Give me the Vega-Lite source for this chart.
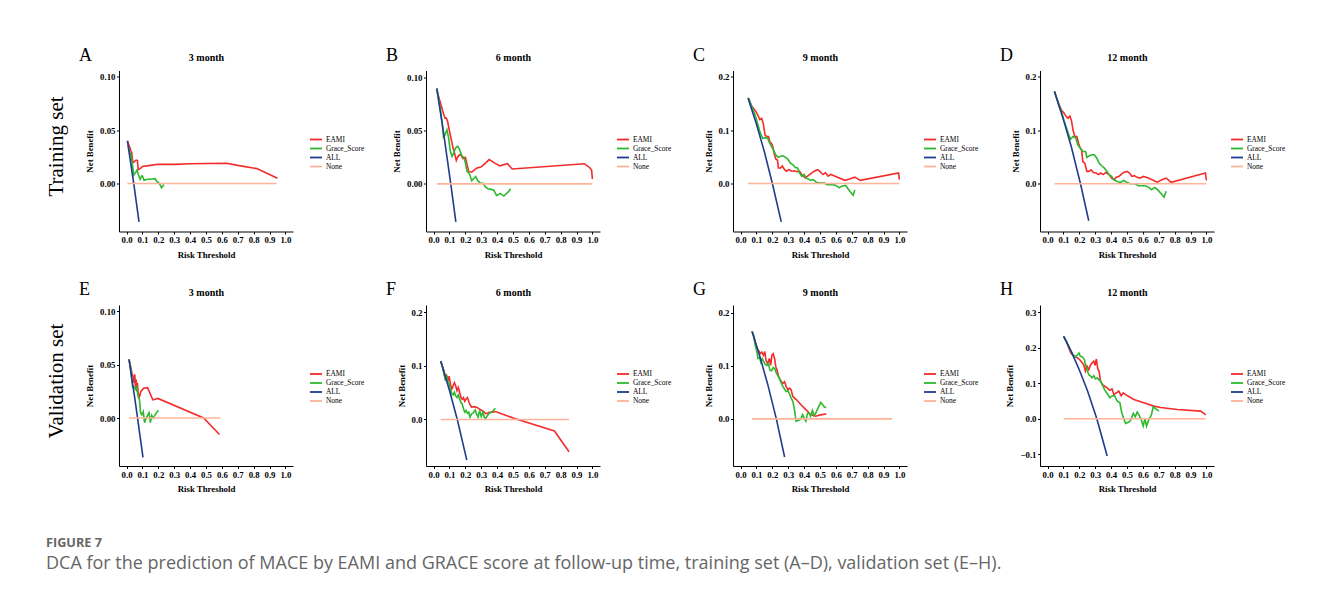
{
"$schema": "https://vega.github.io/schema/vega-lite/v6.json",
"autosize": {"type": "pad"},
"padding": {"left": 45, "top": 46.5, "right": 10, "bottom": 10},
"background": "white",
"datasets": {"dca": [
{"p":"A","m":"EAMI","t":0.005,"nb":0.04},{"p":"A","m":"EAMI","t":0.012,"nb":0.037},{"p":"A","m":"EAMI","t":0.02,"nb":0.034},{"p":"A","m":"EAMI","t":0.026,"nb":0.031},{"p":"A","m":"EAMI","t":0.032,"nb":0.029},{"p":"A","m":"EAMI","t":0.038,"nb":0.021},{"p":"A","m":"EAMI","t":0.045,"nb":0.02},{"p":"A","m":"EAMI","t":0.052,"nb":0.021},{"p":"A","m":"EAMI","t":0.06,"nb":0.022},{"p":"A","m":"EAMI","t":0.068,"nb":0.0215},{"p":"A","m":"EAMI","t":0.073,"nb":0.013},{"p":"A","m":"EAMI","t":0.085,"nb":0.014},{"p":"A","m":"EAMI","t":0.1,"nb":0.016},{"p":"A","m":"EAMI","t":0.15,"nb":0.017},{"p":"A","m":"EAMI","t":0.2,"nb":0.018},{"p":"A","m":"EAMI","t":0.3,"nb":0.018},{"p":"A","m":"EAMI","t":0.4,"nb":0.0185},{"p":"A","m":"EAMI","t":0.5,"nb":0.0188},{"p":"A","m":"EAMI","t":0.63,"nb":0.019},{"p":"A","m":"EAMI","t":0.7,"nb":0.017},{"p":"A","m":"EAMI","t":0.82,"nb":0.014},{"p":"A","m":"EAMI","t":0.95,"nb":0.005},
{"p":"A","m":"Grace_Score","t":0.01,"nb":0.035},{"p":"A","m":"Grace_Score","t":0.02,"nb":0.029},{"p":"A","m":"Grace_Score","t":0.028,"nb":0.026},{"p":"A","m":"Grace_Score","t":0.035,"nb":0.02},{"p":"A","m":"Grace_Score","t":0.045,"nb":0.008},{"p":"A","m":"Grace_Score","t":0.055,"nb":0.01},{"p":"A","m":"Grace_Score","t":0.065,"nb":0.0125},{"p":"A","m":"Grace_Score","t":0.075,"nb":0.008},{"p":"A","m":"Grace_Score","t":0.085,"nb":0.004},{"p":"A","m":"Grace_Score","t":0.095,"nb":0.007},{"p":"A","m":"Grace_Score","t":0.1,"nb":0.007},{"p":"A","m":"Grace_Score","t":0.11,"nb":0.003},{"p":"A","m":"Grace_Score","t":0.13,"nb":0.004},{"p":"A","m":"Grace_Score","t":0.15,"nb":0.004},{"p":"A","m":"Grace_Score","t":0.18,"nb":0.0045},{"p":"A","m":"Grace_Score","t":0.19,"nb":0.002},{"p":"A","m":"Grace_Score","t":0.2,"nb":0.001},{"p":"A","m":"Grace_Score","t":0.21,"nb":-0.001},{"p":"A","m":"Grace_Score","t":0.22,"nb":-0.004},{"p":"A","m":"Grace_Score","t":0.235,"nb":-0.001},
{"p":"A","m":"ALL","t":0.005,"nb":0.04},{"p":"A","m":"ALL","t":0.045,"nb":0.0},{"p":"A","m":"ALL","t":0.078,"nb":-0.036},
{"p":"A","m":"None","t":0.005,"nb":0},{"p":"A","m":"None","t":0.944,"nb":0},
{"p":"B","m":"EAMI","t":0.02,"nb":0.09},{"p":"B","m":"EAMI","t":0.025,"nb":0.086},{"p":"B","m":"EAMI","t":0.038,"nb":0.079},{"p":"B","m":"EAMI","t":0.048,"nb":0.074},{"p":"B","m":"EAMI","t":0.057,"nb":0.069},{"p":"B","m":"EAMI","t":0.063,"nb":0.066},{"p":"B","m":"EAMI","t":0.072,"nb":0.062},{"p":"B","m":"EAMI","t":0.08,"nb":0.062},{"p":"B","m":"EAMI","t":0.088,"nb":0.059},{"p":"B","m":"EAMI","t":0.097,"nb":0.052},{"p":"B","m":"EAMI","t":0.105,"nb":0.046},{"p":"B","m":"EAMI","t":0.114,"nb":0.04},{"p":"B","m":"EAMI","t":0.122,"nb":0.034},{"p":"B","m":"EAMI","t":0.13,"nb":0.03},{"p":"B","m":"EAMI","t":0.143,"nb":0.022},{"p":"B","m":"EAMI","t":0.154,"nb":0.026},{"p":"B","m":"EAMI","t":0.168,"nb":0.028},{"p":"B","m":"EAMI","t":0.185,"nb":0.024},{"p":"B","m":"EAMI","t":0.2,"nb":0.025},{"p":"B","m":"EAMI","t":0.221,"nb":0.0117},{"p":"B","m":"EAMI","t":0.24,"nb":0.011},{"p":"B","m":"EAMI","t":0.27,"nb":0.0148},{"p":"B","m":"EAMI","t":0.3,"nb":0.016},{"p":"B","m":"EAMI","t":0.33,"nb":0.02},{"p":"B","m":"EAMI","t":0.35,"nb":0.023},{"p":"B","m":"EAMI","t":0.38,"nb":0.02},{"p":"B","m":"EAMI","t":0.417,"nb":0.017},{"p":"B","m":"EAMI","t":0.465,"nb":0.019},{"p":"B","m":"EAMI","t":0.495,"nb":0.014},{"p":"B","m":"EAMI","t":0.95,"nb":0.019},{"p":"B","m":"EAMI","t":0.985,"nb":0.015},{"p":"B","m":"EAMI","t":0.995,"nb":0.013},{"p":"B","m":"EAMI","t":1.0,"nb":0.0046},
{"p":"B","m":"Grace_Score","t":0.02,"nb":0.09},{"p":"B","m":"Grace_Score","t":0.025,"nb":0.086},{"p":"B","m":"Grace_Score","t":0.042,"nb":0.071},{"p":"B","m":"Grace_Score","t":0.055,"nb":0.056},{"p":"B","m":"Grace_Score","t":0.063,"nb":0.043},{"p":"B","m":"Grace_Score","t":0.076,"nb":0.048},{"p":"B","m":"Grace_Score","t":0.084,"nb":0.051},{"p":"B","m":"Grace_Score","t":0.095,"nb":0.043},{"p":"B","m":"Grace_Score","t":0.105,"nb":0.031},{"p":"B","m":"Grace_Score","t":0.116,"nb":0.026},{"p":"B","m":"Grace_Score","t":0.126,"nb":0.029},{"p":"B","m":"Grace_Score","t":0.139,"nb":0.034},{"p":"B","m":"Grace_Score","t":0.152,"nb":0.0355},{"p":"B","m":"Grace_Score","t":0.164,"nb":0.032},{"p":"B","m":"Grace_Score","t":0.179,"nb":0.026},{"p":"B","m":"Grace_Score","t":0.19,"nb":0.025},{"p":"B","m":"Grace_Score","t":0.2,"nb":0.02},{"p":"B","m":"Grace_Score","t":0.21,"nb":0.012},{"p":"B","m":"Grace_Score","t":0.227,"nb":0.009},{"p":"B","m":"Grace_Score","t":0.24,"nb":0.003},{"p":"B","m":"Grace_Score","t":0.253,"nb":0.005},{"p":"B","m":"Grace_Score","t":0.265,"nb":0.0068},{"p":"B","m":"Grace_Score","t":0.278,"nb":0.003},{"p":"B","m":"Grace_Score","t":0.295,"nb":0.0006},{"p":"B","m":"Grace_Score","t":0.312,"nb":0.0006},{"p":"B","m":"Grace_Score","t":0.326,"nb":-0.003},{"p":"B","m":"Grace_Score","t":0.341,"nb":-0.0046},{"p":"B","m":"Grace_Score","t":0.358,"nb":-0.005},{"p":"B","m":"Grace_Score","t":0.379,"nb":-0.006},{"p":"B","m":"Grace_Score","t":0.396,"nb":-0.011},{"p":"B","m":"Grace_Score","t":0.41,"nb":-0.01},{"p":"B","m":"Grace_Score","t":0.42,"nb":-0.009},{"p":"B","m":"Grace_Score","t":0.442,"nb":-0.0115},{"p":"B","m":"Grace_Score","t":0.46,"nb":-0.009},{"p":"B","m":"Grace_Score","t":0.474,"nb":-0.007},{"p":"B","m":"Grace_Score","t":0.484,"nb":-0.0046},
{"p":"B","m":"ALL","t":0.02,"nb":0.09},{"p":"B","m":"ALL","t":0.06,"nb":0.051},{"p":"B","m":"ALL","t":0.108,"nb":0.0},{"p":"B","m":"ALL","t":0.14,"nb":-0.036},
{"p":"B","m":"None","t":0.02,"nb":0},{"p":"B","m":"None","t":1.0,"nb":0},
{"p":"C","m":"EAMI","t":0.047,"nb":0.16},{"p":"C","m":"EAMI","t":0.051,"nb":0.159},{"p":"C","m":"EAMI","t":0.068,"nb":0.146},{"p":"C","m":"EAMI","t":0.084,"nb":0.14},{"p":"C","m":"EAMI","t":0.098,"nb":0.134},{"p":"C","m":"EAMI","t":0.109,"nb":0.128},{"p":"C","m":"EAMI","t":0.121,"nb":0.12},{"p":"C","m":"EAMI","t":0.133,"nb":0.122},{"p":"C","m":"EAMI","t":0.143,"nb":0.112},{"p":"C","m":"EAMI","t":0.154,"nb":0.091},{"p":"C","m":"EAMI","t":0.166,"nb":0.088},{"p":"C","m":"EAMI","t":0.176,"nb":0.088},{"p":"C","m":"EAMI","t":0.184,"nb":0.078},{"p":"C","m":"EAMI","t":0.195,"nb":0.075},{"p":"C","m":"EAMI","t":0.203,"nb":0.069},{"p":"C","m":"EAMI","t":0.211,"nb":0.057},{"p":"C","m":"EAMI","t":0.221,"nb":0.046},{"p":"C","m":"EAMI","t":0.232,"nb":0.044},{"p":"C","m":"EAMI","t":0.238,"nb":0.029},{"p":"C","m":"EAMI","t":0.252,"nb":0.029},{"p":"C","m":"EAMI","t":0.262,"nb":0.033},{"p":"C","m":"EAMI","t":0.277,"nb":0.026},{"p":"C","m":"EAMI","t":0.289,"nb":0.023},{"p":"C","m":"EAMI","t":0.303,"nb":0.026},{"p":"C","m":"EAMI","t":0.324,"nb":0.023},{"p":"C","m":"EAMI","t":0.338,"nb":0.024},{"p":"C","m":"EAMI","t":0.355,"nb":0.022},{"p":"C","m":"EAMI","t":0.371,"nb":0.023},{"p":"C","m":"EAMI","t":0.385,"nb":0.017},{"p":"C","m":"EAMI","t":0.395,"nb":0.0136},{"p":"C","m":"EAMI","t":0.408,"nb":0.0105},{"p":"C","m":"EAMI","t":0.42,"nb":0.0136},{"p":"C","m":"EAMI","t":0.436,"nb":0.017},{"p":"C","m":"EAMI","t":0.453,"nb":0.021},{"p":"C","m":"EAMI","t":0.469,"nb":0.024},{"p":"C","m":"EAMI","t":0.486,"nb":0.026},{"p":"C","m":"EAMI","t":0.502,"nb":0.022},{"p":"C","m":"EAMI","t":0.518,"nb":0.017},{"p":"C","m":"EAMI","t":0.535,"nb":0.02},{"p":"C","m":"EAMI","t":0.551,"nb":0.0136},{"p":"C","m":"EAMI","t":0.568,"nb":0.017},{"p":"C","m":"EAMI","t":0.584,"nb":0.015},{"p":"C","m":"EAMI","t":0.621,"nb":0.0105},{"p":"C","m":"EAMI","t":0.658,"nb":0.006},{"p":"C","m":"EAMI","t":0.686,"nb":0.0086},{"p":"C","m":"EAMI","t":0.719,"nb":0.012},{"p":"C","m":"EAMI","t":0.754,"nb":0.006},{"p":"C","m":"EAMI","t":0.995,"nb":0.02},{"p":"C","m":"EAMI","t":1.0,"nb":0.0074},
{"p":"C","m":"Grace_Score","t":0.047,"nb":0.16},{"p":"C","m":"Grace_Score","t":0.051,"nb":0.159},{"p":"C","m":"Grace_Score","t":0.068,"nb":0.146},{"p":"C","m":"Grace_Score","t":0.084,"nb":0.134},{"p":"C","m":"Grace_Score","t":0.098,"nb":0.122},{"p":"C","m":"Grace_Score","t":0.113,"nb":0.106},{"p":"C","m":"Grace_Score","t":0.125,"nb":0.094},{"p":"C","m":"Grace_Score","t":0.139,"nb":0.085},{"p":"C","m":"Grace_Score","t":0.154,"nb":0.086},{"p":"C","m":"Grace_Score","t":0.17,"nb":0.085},{"p":"C","m":"Grace_Score","t":0.18,"nb":0.078},{"p":"C","m":"Grace_Score","t":0.195,"nb":0.069},{"p":"C","m":"Grace_Score","t":0.207,"nb":0.063},{"p":"C","m":"Grace_Score","t":0.221,"nb":0.054},{"p":"C","m":"Grace_Score","t":0.236,"nb":0.049},{"p":"C","m":"Grace_Score","t":0.252,"nb":0.051},{"p":"C","m":"Grace_Score","t":0.268,"nb":0.052},{"p":"C","m":"Grace_Score","t":0.283,"nb":0.049},{"p":"C","m":"Grace_Score","t":0.297,"nb":0.046},{"p":"C","m":"Grace_Score","t":0.314,"nb":0.038},{"p":"C","m":"Grace_Score","t":0.33,"nb":0.035},{"p":"C","m":"Grace_Score","t":0.344,"nb":0.03},{"p":"C","m":"Grace_Score","t":0.359,"nb":0.029},{"p":"C","m":"Grace_Score","t":0.371,"nb":0.02},{"p":"C","m":"Grace_Score","t":0.385,"nb":0.0136},{"p":"C","m":"Grace_Score","t":0.4,"nb":0.017},{"p":"C","m":"Grace_Score","t":0.412,"nb":0.0105},{"p":"C","m":"Grace_Score","t":0.426,"nb":0.0086},{"p":"C","m":"Grace_Score","t":0.44,"nb":0.006},{"p":"C","m":"Grace_Score","t":0.457,"nb":0.0074},{"p":"C","m":"Grace_Score","t":0.477,"nb":0.0025},{"p":"C","m":"Grace_Score","t":0.498,"nb":0.001},{"p":"C","m":"Grace_Score","t":0.529,"nb":0.001},{"p":"C","m":"Grace_Score","t":0.543,"nb":-0.002},{"p":"C","m":"Grace_Score","t":0.58,"nb":-0.002},{"p":"C","m":"Grace_Score","t":0.6,"nb":-0.0037},{"p":"C","m":"Grace_Score","t":0.621,"nb":-0.008},{"p":"C","m":"Grace_Score","t":0.637,"nb":-0.005},{"p":"C","m":"Grace_Score","t":0.662,"nb":-0.0037},{"p":"C","m":"Grace_Score","t":0.682,"nb":-0.012},{"p":"C","m":"Grace_Score","t":0.703,"nb":-0.02},{"p":"C","m":"Grace_Score","t":0.709,"nb":-0.022},{"p":"C","m":"Grace_Score","t":0.719,"nb":-0.012},
{"p":"C","m":"ALL","t":0.047,"nb":0.16},{"p":"C","m":"ALL","t":0.1,"nb":0.111},{"p":"C","m":"ALL","t":0.15,"nb":0.059},{"p":"C","m":"ALL","t":0.2,"nb":0.0},{"p":"C","m":"ALL","t":0.256,"nb":-0.072},
{"p":"C","m":"None","t":0.047,"nb":0},{"p":"C","m":"None","t":1.0,"nb":0},
{"p":"D","m":"EAMI","t":0.043,"nb":0.172},{"p":"D","m":"EAMI","t":0.058,"nb":0.159},{"p":"D","m":"EAMI","t":0.074,"nb":0.146},{"p":"D","m":"EAMI","t":0.088,"nb":0.137},{"p":"D","m":"EAMI","t":0.103,"nb":0.132},{"p":"D","m":"EAMI","t":0.115,"nb":0.126},{"p":"D","m":"EAMI","t":0.128,"nb":0.122},{"p":"D","m":"EAMI","t":0.14,"nb":0.126},{"p":"D","m":"EAMI","t":0.15,"nb":0.118},{"p":"D","m":"EAMI","t":0.16,"nb":0.1},{"p":"D","m":"EAMI","t":0.171,"nb":0.088},{"p":"D","m":"EAMI","t":0.185,"nb":0.088},{"p":"D","m":"EAMI","t":0.195,"nb":0.075},{"p":"D","m":"EAMI","t":0.206,"nb":0.066},{"p":"D","m":"EAMI","t":0.214,"nb":0.063},{"p":"D","m":"EAMI","t":0.222,"nb":0.041},{"p":"D","m":"EAMI","t":0.235,"nb":0.038},{"p":"D","m":"EAMI","t":0.247,"nb":0.023},{"p":"D","m":"EAMI","t":0.259,"nb":0.023},{"p":"D","m":"EAMI","t":0.274,"nb":0.026},{"p":"D","m":"EAMI","t":0.288,"nb":0.021},{"p":"D","m":"EAMI","t":0.305,"nb":0.02},{"p":"D","m":"EAMI","t":0.321,"nb":0.017},{"p":"D","m":"EAMI","t":0.335,"nb":0.02},{"p":"D","m":"EAMI","t":0.35,"nb":0.017},{"p":"D","m":"EAMI","t":0.366,"nb":0.021},{"p":"D","m":"EAMI","t":0.387,"nb":0.017},{"p":"D","m":"EAMI","t":0.403,"nb":0.0105},{"p":"D","m":"EAMI","t":0.418,"nb":0.0074},{"p":"D","m":"EAMI","t":0.432,"nb":0.012},{"p":"D","m":"EAMI","t":0.449,"nb":0.0136},{"p":"D","m":"EAMI","t":0.465,"nb":0.018},{"p":"D","m":"EAMI","t":0.479,"nb":0.021},{"p":"D","m":"EAMI","t":0.5,"nb":0.023},{"p":"D","m":"EAMI","t":0.516,"nb":0.02},{"p":"D","m":"EAMI","t":0.531,"nb":0.0136},{"p":"D","m":"EAMI","t":0.547,"nb":0.015},{"p":"D","m":"EAMI","t":0.562,"nb":0.012},{"p":"D","m":"EAMI","t":0.582,"nb":0.0105},{"p":"D","m":"EAMI","t":0.603,"nb":0.0136},{"p":"D","m":"EAMI","t":0.634,"nb":0.0105},{"p":"D","m":"EAMI","t":0.658,"nb":0.0074},{"p":"D","m":"EAMI","t":0.691,"nb":0.003},{"p":"D","m":"EAMI","t":0.72,"nb":0.0074},{"p":"D","m":"EAMI","t":0.747,"nb":0.0105},{"p":"D","m":"EAMI","t":0.778,"nb":0.0025},{"p":"D","m":"EAMI","t":0.994,"nb":0.02},{"p":"D","m":"EAMI","t":1.0,"nb":0.006},
{"p":"D","m":"Grace_Score","t":0.043,"nb":0.172},{"p":"D","m":"Grace_Score","t":0.058,"nb":0.159},{"p":"D","m":"Grace_Score","t":0.074,"nb":0.143},{"p":"D","m":"Grace_Score","t":0.088,"nb":0.134},{"p":"D","m":"Grace_Score","t":0.103,"nb":0.118},{"p":"D","m":"Grace_Score","t":0.115,"nb":0.107},{"p":"D","m":"Grace_Score","t":0.13,"nb":0.094},{"p":"D","m":"Grace_Score","t":0.144,"nb":0.083},{"p":"D","m":"Grace_Score","t":0.16,"nb":0.088},{"p":"D","m":"Grace_Score","t":0.177,"nb":0.085},{"p":"D","m":"Grace_Score","t":0.191,"nb":0.072},{"p":"D","m":"Grace_Score","t":0.206,"nb":0.066},{"p":"D","m":"Grace_Score","t":0.222,"nb":0.06},{"p":"D","m":"Grace_Score","t":0.239,"nb":0.06},{"p":"D","m":"Grace_Score","t":0.247,"nb":0.049},{"p":"D","m":"Grace_Score","t":0.263,"nb":0.052},{"p":"D","m":"Grace_Score","t":0.28,"nb":0.054},{"p":"D","m":"Grace_Score","t":0.294,"nb":0.054},{"p":"D","m":"Grace_Score","t":0.309,"nb":0.048},{"p":"D","m":"Grace_Score","t":0.325,"nb":0.038},{"p":"D","m":"Grace_Score","t":0.342,"nb":0.033},{"p":"D","m":"Grace_Score","t":0.358,"nb":0.029},{"p":"D","m":"Grace_Score","t":0.374,"nb":0.023},{"p":"D","m":"Grace_Score","t":0.387,"nb":0.017},{"p":"D","m":"Grace_Score","t":0.403,"nb":0.0136},{"p":"D","m":"Grace_Score","t":0.418,"nb":0.0074},{"p":"D","m":"Grace_Score","t":0.438,"nb":0.0043},{"p":"D","m":"Grace_Score","t":0.459,"nb":0.0025},{"p":"D","m":"Grace_Score","t":0.479,"nb":0.006},{"p":"D","m":"Grace_Score","t":0.5,"nb":0.0025},{"p":"D","m":"Grace_Score","t":0.521,"nb":0.0},{"p":"D","m":"Grace_Score","t":0.551,"nb":0.0},{"p":"D","m":"Grace_Score","t":0.572,"nb":-0.0037},{"p":"D","m":"Grace_Score","t":0.613,"nb":-0.0037},{"p":"D","m":"Grace_Score","t":0.638,"nb":-0.0068},{"p":"D","m":"Grace_Score","t":0.654,"nb":-0.011},{"p":"D","m":"Grace_Score","t":0.675,"nb":-0.0068},{"p":"D","m":"Grace_Score","t":0.695,"nb":-0.012},{"p":"D","m":"Grace_Score","t":0.716,"nb":-0.0185},{"p":"D","m":"Grace_Score","t":0.733,"nb":-0.025},{"p":"D","m":"Grace_Score","t":0.747,"nb":-0.014},
{"p":"D","m":"ALL","t":0.043,"nb":0.172},{"p":"D","m":"ALL","t":0.1,"nb":0.119},{"p":"D","m":"ALL","t":0.15,"nb":0.068},{"p":"D","m":"ALL","t":0.207,"nb":0.0},{"p":"D","m":"ALL","t":0.259,"nb":-0.069},
{"p":"D","m":"None","t":0.043,"nb":0},{"p":"D","m":"None","t":1.0,"nb":0},
{"p":"E","m":"EAMI","t":0.015,"nb":0.055},{"p":"E","m":"EAMI","t":0.026,"nb":0.048},{"p":"E","m":"EAMI","t":0.036,"nb":0.04},{"p":"E","m":"EAMI","t":0.043,"nb":0.039},{"p":"E","m":"EAMI","t":0.047,"nb":0.033},{"p":"E","m":"EAMI","t":0.051,"nb":0.041},{"p":"E","m":"EAMI","t":0.056,"nb":0.029},{"p":"E","m":"EAMI","t":0.06,"nb":0.036},{"p":"E","m":"EAMI","t":0.064,"nb":0.025},{"p":"E","m":"EAMI","t":0.068,"nb":0.033},{"p":"E","m":"EAMI","t":0.073,"nb":0.023},{"p":"E","m":"EAMI","t":0.081,"nb":0.02},{"p":"E","m":"EAMI","t":0.09,"nb":0.025},{"p":"E","m":"EAMI","t":0.107,"nb":0.028},{"p":"E","m":"EAMI","t":0.132,"nb":0.0285},{"p":"E","m":"EAMI","t":0.165,"nb":0.017},{"p":"E","m":"EAMI","t":0.197,"nb":0.0184},{"p":"E","m":"EAMI","t":0.485,"nb":0.0},{"p":"E","m":"EAMI","t":0.585,"nb":-0.0155},
{"p":"E","m":"Grace_Score","t":0.015,"nb":0.055},{"p":"E","m":"Grace_Score","t":0.021,"nb":0.05},{"p":"E","m":"Grace_Score","t":0.03,"nb":0.039},{"p":"E","m":"Grace_Score","t":0.038,"nb":0.029},{"p":"E","m":"Grace_Score","t":0.047,"nb":0.029},{"p":"E","m":"Grace_Score","t":0.056,"nb":0.027},{"p":"E","m":"Grace_Score","t":0.064,"nb":0.029},{"p":"E","m":"Grace_Score","t":0.073,"nb":0.02},{"p":"E","m":"Grace_Score","t":0.081,"nb":0.017},{"p":"E","m":"Grace_Score","t":0.088,"nb":0.005},{"p":"E","m":"Grace_Score","t":0.096,"nb":0.003},{"p":"E","m":"Grace_Score","t":0.105,"nb":0.006},{"p":"E","m":"Grace_Score","t":0.113,"nb":-0.0044},{"p":"E","m":"Grace_Score","t":0.124,"nb":0.0},{"p":"E","m":"Grace_Score","t":0.132,"nb":0.0025},{"p":"E","m":"Grace_Score","t":0.141,"nb":0.005},{"p":"E","m":"Grace_Score","t":0.15,"nb":-0.0044},{"p":"E","m":"Grace_Score","t":0.158,"nb":0.0025},{"p":"E","m":"Grace_Score","t":0.167,"nb":0.0},{"p":"E","m":"Grace_Score","t":0.179,"nb":0.003},{"p":"E","m":"Grace_Score","t":0.192,"nb":0.0057},{"p":"E","m":"Grace_Score","t":0.201,"nb":0.0073},
{"p":"E","m":"ALL","t":0.015,"nb":0.055},{"p":"E","m":"ALL","t":0.05,"nb":0.02},{"p":"E","m":"ALL","t":0.069,"nb":0.0},{"p":"E","m":"ALL","t":0.103,"nb":-0.037},
{"p":"E","m":"None","t":0.015,"nb":0},{"p":"E","m":"None","t":0.592,"nb":0},
{"p":"F","m":"EAMI","t":0.045,"nb":0.109},{"p":"F","m":"EAMI","t":0.055,"nb":0.1},{"p":"F","m":"EAMI","t":0.065,"nb":0.091},{"p":"F","m":"EAMI","t":0.072,"nb":0.078},{"p":"F","m":"EAMI","t":0.08,"nb":0.083},{"p":"F","m":"EAMI","t":0.086,"nb":0.08},{"p":"F","m":"EAMI","t":0.092,"nb":0.072},{"p":"F","m":"EAMI","t":0.098,"nb":0.081},{"p":"F","m":"EAMI","t":0.106,"nb":0.066},{"p":"F","m":"EAMI","t":0.115,"nb":0.057},{"p":"F","m":"EAMI","t":0.123,"nb":0.063},{"p":"F","m":"EAMI","t":0.131,"nb":0.069},{"p":"F","m":"EAMI","t":0.139,"nb":0.063},{"p":"F","m":"EAMI","t":0.147,"nb":0.054},{"p":"F","m":"EAMI","t":0.155,"nb":0.06},{"p":"F","m":"EAMI","t":0.164,"nb":0.051},{"p":"F","m":"EAMI","t":0.172,"nb":0.041},{"p":"F","m":"EAMI","t":0.18,"nb":0.038},{"p":"F","m":"EAMI","t":0.188,"nb":0.041},{"p":"F","m":"EAMI","t":0.196,"nb":0.034},{"p":"F","m":"EAMI","t":0.204,"nb":0.038},{"p":"F","m":"EAMI","t":0.213,"nb":0.041},{"p":"F","m":"EAMI","t":0.221,"nb":0.034},{"p":"F","m":"EAMI","t":0.229,"nb":0.028},{"p":"F","m":"EAMI","t":0.239,"nb":0.023},{"p":"F","m":"EAMI","t":0.254,"nb":0.024},{"p":"F","m":"EAMI","t":0.27,"nb":0.023},{"p":"F","m":"EAMI","t":0.286,"nb":0.02},{"p":"F","m":"EAMI","t":0.303,"nb":0.017},{"p":"F","m":"EAMI","t":0.319,"nb":0.0136},{"p":"F","m":"EAMI","t":0.331,"nb":0.0105},{"p":"F","m":"EAMI","t":0.348,"nb":0.0136},{"p":"F","m":"EAMI","t":0.372,"nb":0.0136},{"p":"F","m":"EAMI","t":0.389,"nb":0.0148},{"p":"F","m":"EAMI","t":0.515,"nb":0.0012},{"p":"F","m":"EAMI","t":0.761,"nb":-0.0216},{"p":"F","m":"EAMI","t":0.853,"nb":-0.0605},
{"p":"F","m":"Grace_Score","t":0.045,"nb":0.109},{"p":"F","m":"Grace_Score","t":0.055,"nb":0.1},{"p":"F","m":"Grace_Score","t":0.065,"nb":0.085},{"p":"F","m":"Grace_Score","t":0.074,"nb":0.075},{"p":"F","m":"Grace_Score","t":0.082,"nb":0.08},{"p":"F","m":"Grace_Score","t":0.09,"nb":0.071},{"p":"F","m":"Grace_Score","t":0.098,"nb":0.066},{"p":"F","m":"Grace_Score","t":0.106,"nb":0.057},{"p":"F","m":"Grace_Score","t":0.115,"nb":0.048},{"p":"F","m":"Grace_Score","t":0.123,"nb":0.046},{"p":"F","m":"Grace_Score","t":0.131,"nb":0.051},{"p":"F","m":"Grace_Score","t":0.139,"nb":0.044},{"p":"F","m":"Grace_Score","t":0.147,"nb":0.041},{"p":"F","m":"Grace_Score","t":0.155,"nb":0.046},{"p":"F","m":"Grace_Score","t":0.164,"nb":0.038},{"p":"F","m":"Grace_Score","t":0.172,"nb":0.032},{"p":"F","m":"Grace_Score","t":0.18,"nb":0.029},{"p":"F","m":"Grace_Score","t":0.188,"nb":0.02},{"p":"F","m":"Grace_Score","t":0.196,"nb":0.0136},{"p":"F","m":"Grace_Score","t":0.204,"nb":0.0167},{"p":"F","m":"Grace_Score","t":0.213,"nb":0.0117},{"p":"F","m":"Grace_Score","t":0.221,"nb":0.0136},{"p":"F","m":"Grace_Score","t":0.229,"nb":0.0043},{"p":"F","m":"Grace_Score","t":0.239,"nb":0.0105},{"p":"F","m":"Grace_Score","t":0.249,"nb":0.0117},{"p":"F","m":"Grace_Score","t":0.262,"nb":0.018},{"p":"F","m":"Grace_Score","t":0.27,"nb":0.0105},{"p":"F","m":"Grace_Score","t":0.28,"nb":0.0043},{"p":"F","m":"Grace_Score","t":0.29,"nb":0.0167},{"p":"F","m":"Grace_Score","t":0.3,"nb":0.0056},{"p":"F","m":"Grace_Score","t":0.311,"nb":0.0136},{"p":"F","m":"Grace_Score","t":0.319,"nb":0.0043},{"p":"F","m":"Grace_Score","t":0.327,"nb":0.0012},{"p":"F","m":"Grace_Score","t":0.335,"nb":0.0056},{"p":"F","m":"Grace_Score","t":0.348,"nb":0.0105},{"p":"F","m":"Grace_Score","t":0.362,"nb":0.0136},{"p":"F","m":"Grace_Score","t":0.376,"nb":0.0167},{"p":"F","m":"Grace_Score","t":0.389,"nb":0.021},
{"p":"F","m":"ALL","t":0.045,"nb":0.109},{"p":"F","m":"ALL","t":0.1,"nb":0.054},{"p":"F","m":"ALL","t":0.149,"nb":0.0},{"p":"F","m":"ALL","t":0.209,"nb":-0.076},
{"p":"F","m":"None","t":0.045,"nb":0},{"p":"F","m":"None","t":0.853,"nb":0},
{"p":"G","m":"EAMI","t":0.072,"nb":0.165},{"p":"G","m":"EAMI","t":0.082,"nb":0.157},{"p":"G","m":"EAMI","t":0.092,"nb":0.145},{"p":"G","m":"EAMI","t":0.103,"nb":0.132},{"p":"G","m":"EAMI","t":0.113,"nb":0.129},{"p":"G","m":"EAMI","t":0.123,"nb":0.123},{"p":"G","m":"EAMI","t":0.133,"nb":0.126},{"p":"G","m":"EAMI","t":0.144,"nb":0.12},{"p":"G","m":"EAMI","t":0.152,"nb":0.127},{"p":"G","m":"EAMI","t":0.16,"nb":0.11},{"p":"G","m":"EAMI","t":0.17,"nb":0.104},{"p":"G","m":"EAMI","t":0.181,"nb":0.114},{"p":"G","m":"EAMI","t":0.189,"nb":0.101},{"p":"G","m":"EAMI","t":0.197,"nb":0.12},{"p":"G","m":"EAMI","t":0.205,"nb":0.123},{"p":"G","m":"EAMI","t":0.214,"nb":0.114},{"p":"G","m":"EAMI","t":0.222,"nb":0.098},{"p":"G","m":"EAMI","t":0.23,"nb":0.092},{"p":"G","m":"EAMI","t":0.238,"nb":0.081},{"p":"G","m":"EAMI","t":0.246,"nb":0.076},{"p":"G","m":"EAMI","t":0.257,"nb":0.07},{"p":"G","m":"EAMI","t":0.267,"nb":0.067},{"p":"G","m":"EAMI","t":0.277,"nb":0.07},{"p":"G","m":"EAMI","t":0.287,"nb":0.061},{"p":"G","m":"EAMI","t":0.298,"nb":0.055},{"p":"G","m":"EAMI","t":0.308,"nb":0.058},{"p":"G","m":"EAMI","t":0.318,"nb":0.055},{"p":"G","m":"EAMI","t":0.329,"nb":0.042},{"p":"G","m":"EAMI","t":0.349,"nb":0.037},{"p":"G","m":"EAMI","t":0.38,"nb":0.0267},{"p":"G","m":"EAMI","t":0.411,"nb":0.0174},{"p":"G","m":"EAMI","t":0.441,"nb":0.008},{"p":"G","m":"EAMI","t":0.472,"nb":0.005},{"p":"G","m":"EAMI","t":0.503,"nb":0.0075},{"p":"G","m":"EAMI","t":0.54,"nb":0.0093},
{"p":"G","m":"Grace_Score","t":0.072,"nb":0.165},{"p":"G","m":"Grace_Score","t":0.082,"nb":0.157},{"p":"G","m":"Grace_Score","t":0.092,"nb":0.139},{"p":"G","m":"Grace_Score","t":0.103,"nb":0.126},{"p":"G","m":"Grace_Score","t":0.109,"nb":0.114},{"p":"G","m":"Grace_Score","t":0.119,"nb":0.116},{"p":"G","m":"Grace_Score","t":0.127,"nb":0.107},{"p":"G","m":"Grace_Score","t":0.136,"nb":0.114},{"p":"G","m":"Grace_Score","t":0.144,"nb":0.109},{"p":"G","m":"Grace_Score","t":0.154,"nb":0.103},{"p":"G","m":"Grace_Score","t":0.164,"nb":0.101},{"p":"G","m":"Grace_Score","t":0.175,"nb":0.104},{"p":"G","m":"Grace_Score","t":0.185,"nb":0.092},{"p":"G","m":"Grace_Score","t":0.195,"nb":0.091},{"p":"G","m":"Grace_Score","t":0.205,"nb":0.097},{"p":"G","m":"Grace_Score","t":0.216,"nb":0.094},{"p":"G","m":"Grace_Score","t":0.226,"nb":0.086},{"p":"G","m":"Grace_Score","t":0.236,"nb":0.081},{"p":"G","m":"Grace_Score","t":0.246,"nb":0.075},{"p":"G","m":"Grace_Score","t":0.257,"nb":0.067},{"p":"G","m":"Grace_Score","t":0.267,"nb":0.061},{"p":"G","m":"Grace_Score","t":0.277,"nb":0.056},{"p":"G","m":"Grace_Score","t":0.287,"nb":0.0516},{"p":"G","m":"Grace_Score","t":0.298,"nb":0.053},{"p":"G","m":"Grace_Score","t":0.308,"nb":0.047},{"p":"G","m":"Grace_Score","t":0.318,"nb":0.039},{"p":"G","m":"Grace_Score","t":0.329,"nb":0.033},{"p":"G","m":"Grace_Score","t":0.339,"nb":0.0174},{"p":"G","m":"Grace_Score","t":0.349,"nb":-0.0043},{"p":"G","m":"Grace_Score","t":0.366,"nb":-0.0025},{"p":"G","m":"Grace_Score","t":0.38,"nb":0.0},{"p":"G","m":"Grace_Score","t":0.39,"nb":0.008},{"p":"G","m":"Grace_Score","t":0.4,"nb":0.0019},{"p":"G","m":"Grace_Score","t":0.411,"nb":-0.0043},{"p":"G","m":"Grace_Score","t":0.421,"nb":0.01},{"p":"G","m":"Grace_Score","t":0.431,"nb":0.011},{"p":"G","m":"Grace_Score","t":0.441,"nb":0.005},{"p":"G","m":"Grace_Score","t":0.452,"nb":0.016},{"p":"G","m":"Grace_Score","t":0.462,"nb":0.0062},{"p":"G","m":"Grace_Score","t":0.472,"nb":0.01},{"p":"G","m":"Grace_Score","t":0.483,"nb":0.0174},{"p":"G","m":"Grace_Score","t":0.493,"nb":0.0236},{"p":"G","m":"Grace_Score","t":0.505,"nb":0.031},{"p":"G","m":"Grace_Score","t":0.517,"nb":0.0267},{"p":"G","m":"Grace_Score","t":0.528,"nb":0.0224},{"p":"G","m":"Grace_Score","t":0.54,"nb":0.0217},
{"p":"G","m":"ALL","t":0.072,"nb":0.165},{"p":"G","m":"ALL","t":0.12,"nb":0.119},{"p":"G","m":"ALL","t":0.17,"nb":0.066},{"p":"G","m":"ALL","t":0.225,"nb":0.0},{"p":"G","m":"ALL","t":0.277,"nb":-0.072},
{"p":"G","m":"None","t":0.072,"nb":0},{"p":"G","m":"None","t":0.955,"nb":0},
{"p":"H","m":"EAMI","t":0.101,"nb":0.232},{"p":"H","m":"EAMI","t":0.118,"nb":0.218},{"p":"H","m":"EAMI","t":0.133,"nb":0.199},{"p":"H","m":"EAMI","t":0.147,"nb":0.185},{"p":"H","m":"EAMI","t":0.16,"nb":0.178},{"p":"H","m":"EAMI","t":0.175,"nb":0.174},{"p":"H","m":"EAMI","t":0.189,"nb":0.171},{"p":"H","m":"EAMI","t":0.202,"nb":0.166},{"p":"H","m":"EAMI","t":0.215,"nb":0.159},{"p":"H","m":"EAMI","t":0.227,"nb":0.152},{"p":"H","m":"EAMI","t":0.238,"nb":0.134},{"p":"H","m":"EAMI","t":0.248,"nb":0.148},{"p":"H","m":"EAMI","t":0.259,"nb":0.138},{"p":"H","m":"EAMI","t":0.269,"nb":0.15},{"p":"H","m":"EAMI","t":0.28,"nb":0.157},{"p":"H","m":"EAMI","t":0.291,"nb":0.162},{"p":"H","m":"EAMI","t":0.299,"nb":0.15},{"p":"H","m":"EAMI","t":0.307,"nb":0.168},{"p":"H","m":"EAMI","t":0.316,"nb":0.14},{"p":"H","m":"EAMI","t":0.324,"nb":0.134},{"p":"H","m":"EAMI","t":0.333,"nb":0.106},{"p":"H","m":"EAMI","t":0.343,"nb":0.096},{"p":"H","m":"EAMI","t":0.358,"nb":0.092},{"p":"H","m":"EAMI","t":0.375,"nb":0.087},{"p":"H","m":"EAMI","t":0.392,"nb":0.08},{"p":"H","m":"EAMI","t":0.406,"nb":0.084},{"p":"H","m":"EAMI","t":0.417,"nb":0.068},{"p":"H","m":"EAMI","t":0.434,"nb":0.073},{"p":"H","m":"EAMI","t":0.448,"nb":0.078},{"p":"H","m":"EAMI","t":0.463,"nb":0.065},{"p":"H","m":"EAMI","t":0.476,"nb":0.073},{"p":"H","m":"EAMI","t":0.491,"nb":0.068},{"p":"H","m":"EAMI","t":0.543,"nb":0.054},{"p":"H","m":"EAMI","t":0.606,"nb":0.045},{"p":"H","m":"EAMI","t":0.669,"nb":0.0355},{"p":"H","m":"EAMI","t":0.712,"nb":0.0318},{"p":"H","m":"EAMI","t":0.817,"nb":0.026},{"p":"H","m":"EAMI","t":0.964,"nb":0.0215},{"p":"H","m":"EAMI","t":0.996,"nb":0.011},
{"p":"H","m":"Grace_Score","t":0.101,"nb":0.232},{"p":"H","m":"Grace_Score","t":0.118,"nb":0.218},{"p":"H","m":"Grace_Score","t":0.133,"nb":0.204},{"p":"H","m":"Grace_Score","t":0.147,"nb":0.19},{"p":"H","m":"Grace_Score","t":0.16,"nb":0.18},{"p":"H","m":"Grace_Score","t":0.175,"nb":0.174},{"p":"H","m":"Grace_Score","t":0.189,"nb":0.18},{"p":"H","m":"Grace_Score","t":0.198,"nb":0.185},{"p":"H","m":"Grace_Score","t":0.206,"nb":0.176},{"p":"H","m":"Grace_Score","t":0.219,"nb":0.174},{"p":"H","m":"Grace_Score","t":0.232,"nb":0.166},{"p":"H","m":"Grace_Score","t":0.24,"nb":0.148},{"p":"H","m":"Grace_Score","t":0.248,"nb":0.138},{"p":"H","m":"Grace_Score","t":0.259,"nb":0.124},{"p":"H","m":"Grace_Score","t":0.269,"nb":0.121},{"p":"H","m":"Grace_Score","t":0.28,"nb":0.115},{"p":"H","m":"Grace_Score","t":0.291,"nb":0.121},{"p":"H","m":"Grace_Score","t":0.301,"nb":0.112},{"p":"H","m":"Grace_Score","t":0.312,"nb":0.115},{"p":"H","m":"Grace_Score","t":0.322,"nb":0.11},{"p":"H","m":"Grace_Score","t":0.333,"nb":0.106},{"p":"H","m":"Grace_Score","t":0.343,"nb":0.099},{"p":"H","m":"Grace_Score","t":0.358,"nb":0.082},{"p":"H","m":"Grace_Score","t":0.375,"nb":0.071},{"p":"H","m":"Grace_Score","t":0.392,"nb":0.059},{"p":"H","m":"Grace_Score","t":0.406,"nb":0.064},{"p":"H","m":"Grace_Score","t":0.421,"nb":0.065},{"p":"H","m":"Grace_Score","t":0.438,"nb":0.05},{"p":"H","m":"Grace_Score","t":0.455,"nb":0.045},{"p":"H","m":"Grace_Score","t":0.467,"nb":0.017},{"p":"H","m":"Grace_Score","t":0.48,"nb":0.0},{"p":"H","m":"Grace_Score","t":0.491,"nb":-0.013},{"p":"H","m":"Grace_Score","t":0.512,"nb":-0.0093},{"p":"H","m":"Grace_Score","t":0.526,"nb":-0.0019},{"p":"H","m":"Grace_Score","t":0.539,"nb":0.015},{"p":"H","m":"Grace_Score","t":0.552,"nb":0.0056},{"p":"H","m":"Grace_Score","t":0.564,"nb":0.0187},{"p":"H","m":"Grace_Score","t":0.577,"nb":0.0093},{"p":"H","m":"Grace_Score","t":0.589,"nb":-0.0019},{"p":"H","m":"Grace_Score","t":0.602,"nb":-0.0206},{"p":"H","m":"Grace_Score","t":0.613,"nb":0.0},{"p":"H","m":"Grace_Score","t":0.623,"nb":-0.0206},{"p":"H","m":"Grace_Score","t":0.638,"nb":-0.0019},{"p":"H","m":"Grace_Score","t":0.653,"nb":0.0093},{"p":"H","m":"Grace_Score","t":0.665,"nb":0.0336},{"p":"H","m":"Grace_Score","t":0.682,"nb":0.028},{"p":"H","m":"Grace_Score","t":0.701,"nb":0.0215},
{"p":"H","m":"ALL","t":0.101,"nb":0.232},{"p":"H","m":"ALL","t":0.15,"nb":0.188},{"p":"H","m":"ALL","t":0.2,"nb":0.137},{"p":"H","m":"ALL","t":0.25,"nb":0.08},{"p":"H","m":"ALL","t":0.31,"nb":0.0},{"p":"H","m":"ALL","t":0.375,"nb":-0.105},
{"p":"H","m":"None","t":0.101,"nb":0},{"p":"H","m":"None","t":0.996,"nb":0}
]},
"data": {"name": "dca"},
"title": {"text": "FIGURE 7", "subtitle": "DCA for the prediction of MACE by EAMI and GRACE score at follow-up time, training set (A–D), validation set (E–H).", "orient": "bottom", "anchor": "start", "frame": "bounds", "font": "Open Sans", "fontSize": 12.7, "fontWeight": "bold", "color": "#666666", "subtitleFont": "Open Sans", "subtitleFontSize": 18, "subtitleColor": "#666666", "subtitlePadding": 5, "offset": 43.5, "dx": 0, "dy": 0, "baseline": "top"},
"spacing": 21.5,
"bounds": "full",
"resolve": {"scale": {"x": "independent", "y": "independent", "color": "independent"}, "legend": {"color": "independent"}},
"vconcat": [
{"title": {"text": "Training set", "orient": "left", "anchor": "middle", "font": "Liberation Serif", "fontSize": 21, "fontWeight": "normal", "color": "#000000", "offset": -9, "dx": -76, "dy": 0, "baseline": "bottom"},
 "spacing": 133, "bounds": "flush",
 "resolve": {"scale": {"x": "independent", "y": "independent", "color": "independent"}, "legend": {"color": "independent"}},
 "hconcat": [
  {"width": 174, "height": 161, "title": {"text": "A"}, "transform": [{"filter": "datum.p === 'A'"}],
   "layer": [
    {"mark": {"type": "line", "strokeWidth": 1.6},
     "encoding": {
      "x": {"field": "t", "type": "quantitative", "scale": {"domain": [-0.048, 1.048], "nice": false, "zero": false}, "axis": {"title": "Risk Threshold", "values": [0,0.1,0.2,0.3,0.4,0.5,0.6,0.7,0.8,0.9,1], "format": ".1f"}},
      "y": {"field": "nb", "type": "quantitative", "scale": {"domain": [-0.045, 0.106], "nice": false, "zero": false}, "axis": {"title": "Net Benefit", "values": [0, 0.05, 0.1], "format": ".2f"}},
      "color": {"field": "m", "type": "nominal", "scale": {"domain": ["EAMI","Grace_Score","ALL","None"], "range": ["#F32B2B","#2EB82E","#1F3D8F","#FFB399"]}, "legend": {"orient": "none", "legendX": 192, "legendY": 64, "title": null}}}},
    {"mark": {"type": "line", "opacity": 0},
     "encoding": {"x": {"field": "t", "type": "quantitative", "axis": {"orient": "top", "title": "3 month", "domain": false, "ticks": false, "labels": false, "titlePadding": 8, "titleFontSize": 10}}, "y": {"field": "nb", "type": "quantitative"}}}
   ],
   "resolve": {"axis": {"x": "independent"}}},
  {"width": 174, "height": 161, "title": {"text": "B"}, "transform": [{"filter": "datum.p === 'B'"}],
   "layer": [
    {"mark": {"type": "line", "strokeWidth": 1.6},
     "encoding": {
      "x": {"field": "t", "type": "quantitative", "scale": {"domain": [-0.048, 1.048], "nice": false, "zero": false}, "axis": {"title": "Risk Threshold", "values": [0,0.1,0.2,0.3,0.4,0.5,0.6,0.7,0.8,0.9,1], "format": ".1f"}},
      "y": {"field": "nb", "type": "quantitative", "scale": {"domain": [-0.045, 0.107], "nice": false, "zero": false}, "axis": {"title": "Net Benefit", "values": [0, 0.05, 0.1], "format": ".2f"}},
      "color": {"field": "m", "type": "nominal", "scale": {"domain": ["EAMI","Grace_Score","ALL","None"], "range": ["#F32B2B","#2EB82E","#1F3D8F","#FFB399"]}, "legend": {"orient": "none", "legendX": 192, "legendY": 64, "title": null}}}},
    {"mark": {"type": "line", "opacity": 0},
     "encoding": {"x": {"field": "t", "type": "quantitative", "axis": {"orient": "top", "title": "6 month", "domain": false, "ticks": false, "labels": false, "titlePadding": 8, "titleFontSize": 10}}, "y": {"field": "nb", "type": "quantitative"}}}
   ],
   "resolve": {"axis": {"x": "independent"}}},
  {"width": 174, "height": 161, "title": {"text": "C"}, "transform": [{"filter": "datum.p === 'C'"}],
   "layer": [
    {"mark": {"type": "line", "strokeWidth": 1.6},
     "encoding": {
      "x": {"field": "t", "type": "quantitative", "scale": {"domain": [-0.048, 1.048], "nice": false, "zero": false}, "axis": {"title": "Risk Threshold", "values": [0,0.1,0.2,0.3,0.4,0.5,0.6,0.7,0.8,0.9,1], "format": ".1f"}},
      "y": {"field": "nb", "type": "quantitative", "scale": {"domain": [-0.09, 0.212], "nice": false, "zero": false}, "axis": {"title": "Net Benefit", "values": [0, 0.1, 0.2], "format": ".1f"}},
      "color": {"field": "m", "type": "nominal", "scale": {"domain": ["EAMI","Grace_Score","ALL","None"], "range": ["#F32B2B","#2EB82E","#1F3D8F","#FFB399"]}, "legend": {"orient": "none", "legendX": 192, "legendY": 64, "title": null}}}},
    {"mark": {"type": "line", "opacity": 0},
     "encoding": {"x": {"field": "t", "type": "quantitative", "axis": {"orient": "top", "title": "9 month", "domain": false, "ticks": false, "labels": false, "titlePadding": 8, "titleFontSize": 10}}, "y": {"field": "nb", "type": "quantitative"}}}
   ],
   "resolve": {"axis": {"x": "independent"}}},
  {"width": 174, "height": 161, "title": {"text": "D"}, "transform": [{"filter": "datum.p === 'D'"}],
   "layer": [
    {"mark": {"type": "line", "strokeWidth": 1.6},
     "encoding": {
      "x": {"field": "t", "type": "quantitative", "scale": {"domain": [-0.048, 1.048], "nice": false, "zero": false}, "axis": {"title": "Risk Threshold", "values": [0,0.1,0.2,0.3,0.4,0.5,0.6,0.7,0.8,0.9,1], "format": ".1f"}},
      "y": {"field": "nb", "type": "quantitative", "scale": {"domain": [-0.089, 0.211], "nice": false, "zero": false}, "axis": {"title": "Net Benefit", "values": [0, 0.1, 0.2], "format": ".1f"}},
      "color": {"field": "m", "type": "nominal", "scale": {"domain": ["EAMI","Grace_Score","ALL","None"], "range": ["#F32B2B","#2EB82E","#1F3D8F","#FFB399"]}, "legend": {"orient": "none", "legendX": 192, "legendY": 64, "title": null}}}},
    {"mark": {"type": "line", "opacity": 0},
     "encoding": {"x": {"field": "t", "type": "quantitative", "axis": {"orient": "top", "title": "12 month", "domain": false, "ticks": false, "labels": false, "titlePadding": 8, "titleFontSize": 10}}, "y": {"field": "nb", "type": "quantitative"}}}
   ],
   "resolve": {"axis": {"x": "independent"}}}
 ]},
{"title": {"text": "Validation set", "orient": "left", "anchor": "middle", "font": "Liberation Serif", "fontSize": 21, "fontWeight": "normal", "color": "#000000", "offset": -9, "dx": -76, "dy": 0, "baseline": "bottom"},
 "spacing": 133, "bounds": "flush",
 "resolve": {"scale": {"x": "independent", "y": "independent", "color": "independent"}, "legend": {"color": "independent"}},
 "hconcat": [
  {"width": 174, "height": 161, "title": {"text": "E"}, "transform": [{"filter": "datum.p === 'E'"}],
   "layer": [
    {"mark": {"type": "line", "strokeWidth": 1.6},
     "encoding": {
      "x": {"field": "t", "type": "quantitative", "scale": {"domain": [-0.048, 1.048], "nice": false, "zero": false}, "axis": {"title": "Risk Threshold", "values": [0,0.1,0.2,0.3,0.4,0.5,0.6,0.7,0.8,0.9,1], "format": ".1f"}},
      "y": {"field": "nb", "type": "quantitative", "scale": {"domain": [-0.045, 0.106], "nice": false, "zero": false}, "axis": {"title": "Net Benefit", "values": [0, 0.05, 0.1], "format": ".2f"}},
      "color": {"field": "m", "type": "nominal", "scale": {"domain": ["EAMI","Grace_Score","ALL","None"], "range": ["#F32B2B","#2EB82E","#1F3D8F","#FFB399"]}, "legend": {"orient": "none", "legendX": 192, "legendY": 64, "title": null}}}},
    {"mark": {"type": "line", "opacity": 0},
     "encoding": {"x": {"field": "t", "type": "quantitative", "axis": {"orient": "top", "title": "3 month", "domain": false, "ticks": false, "labels": false, "titlePadding": 8, "titleFontSize": 10}}, "y": {"field": "nb", "type": "quantitative"}}}
   ],
   "resolve": {"axis": {"x": "independent"}}},
  {"width": 174, "height": 161, "title": {"text": "F"}, "transform": [{"filter": "datum.p === 'F'"}],
   "layer": [
    {"mark": {"type": "line", "strokeWidth": 1.6},
     "encoding": {
      "x": {"field": "t", "type": "quantitative", "scale": {"domain": [-0.048, 1.048], "nice": false, "zero": false}, "axis": {"title": "Risk Threshold", "values": [0,0.1,0.2,0.3,0.4,0.5,0.6,0.7,0.8,0.9,1], "format": ".1f"}},
      "y": {"field": "nb", "type": "quantitative", "scale": {"domain": [-0.087, 0.214], "nice": false, "zero": false}, "axis": {"title": "Net Benefit", "values": [0, 0.1, 0.2], "format": ".1f"}},
      "color": {"field": "m", "type": "nominal", "scale": {"domain": ["EAMI","Grace_Score","ALL","None"], "range": ["#F32B2B","#2EB82E","#1F3D8F","#FFB399"]}, "legend": {"orient": "none", "legendX": 192, "legendY": 64, "title": null}}}},
    {"mark": {"type": "line", "opacity": 0},
     "encoding": {"x": {"field": "t", "type": "quantitative", "axis": {"orient": "top", "title": "6 month", "domain": false, "ticks": false, "labels": false, "titlePadding": 8, "titleFontSize": 10}}, "y": {"field": "nb", "type": "quantitative"}}}
   ],
   "resolve": {"axis": {"x": "independent"}}},
  {"width": 174, "height": 161, "title": {"text": "G"}, "transform": [{"filter": "datum.p === 'G'"}],
   "layer": [
    {"mark": {"type": "line", "strokeWidth": 1.6},
     "encoding": {
      "x": {"field": "t", "type": "quantitative", "scale": {"domain": [-0.048, 1.048], "nice": false, "zero": false}, "axis": {"title": "Risk Threshold", "values": [0,0.1,0.2,0.3,0.4,0.5,0.6,0.7,0.8,0.9,1], "format": ".1f"}},
      "y": {"field": "nb", "type": "quantitative", "scale": {"domain": [-0.089, 0.215], "nice": false, "zero": false}, "axis": {"title": "Net Benefit", "values": [0, 0.1, 0.2], "format": ".1f"}},
      "color": {"field": "m", "type": "nominal", "scale": {"domain": ["EAMI","Grace_Score","ALL","None"], "range": ["#F32B2B","#2EB82E","#1F3D8F","#FFB399"]}, "legend": {"orient": "none", "legendX": 192, "legendY": 64, "title": null}}}},
    {"mark": {"type": "line", "opacity": 0},
     "encoding": {"x": {"field": "t", "type": "quantitative", "axis": {"orient": "top", "title": "9 month", "domain": false, "ticks": false, "labels": false, "titlePadding": 8, "titleFontSize": 10}}, "y": {"field": "nb", "type": "quantitative"}}}
   ],
   "resolve": {"axis": {"x": "independent"}}},
  {"width": 174, "height": 161, "title": {"text": "H"}, "transform": [{"filter": "datum.p === 'H'"}],
   "layer": [
    {"mark": {"type": "line", "strokeWidth": 1.6},
     "encoding": {
      "x": {"field": "t", "type": "quantitative", "scale": {"domain": [-0.048, 1.048], "nice": false, "zero": false}, "axis": {"title": "Risk Threshold", "values": [0,0.1,0.2,0.3,0.4,0.5,0.6,0.7,0.8,0.9,1], "format": ".1f"}},
      "y": {"field": "nb", "type": "quantitative", "scale": {"domain": [-0.133, 0.32], "nice": false, "zero": false}, "axis": {"title": "Net Benefit", "values": [-0.1, 0, 0.1, 0.2, 0.3], "format": ".1f"}},
      "color": {"field": "m", "type": "nominal", "scale": {"domain": ["EAMI","Grace_Score","ALL","None"], "range": ["#F32B2B","#2EB82E","#1F3D8F","#FFB399"]}, "legend": {"orient": "none", "legendX": 192, "legendY": 64, "title": null}}}},
    {"mark": {"type": "line", "opacity": 0},
     "encoding": {"x": {"field": "t", "type": "quantitative", "axis": {"orient": "top", "title": "12 month", "domain": false, "ticks": false, "labels": false, "titlePadding": 8, "titleFontSize": 10}}, "y": {"field": "nb", "type": "quantitative"}}}
   ],
   "resolve": {"axis": {"x": "independent"}}}
 ]}
],
"config": {
 "view": {"stroke": null},
 "font": "Liberation Serif",
 "title": {"font": "Liberation Serif", "fontSize": 18, "fontWeight": "normal", "color": "#000000", "anchor": "start", "frame": "group", "dx": -40, "dy": 16, "offset": 0, "baseline": "alphabetic"},
 "axis": {"grid": false, "domainColor": "#000000", "domainWidth": 1, "tickColor": "#000000", "tickSize": 2.5, "tickWidth": 1, "labelFont": "Liberation Serif", "labelFontSize": 8.8, "labelFontWeight": "bold", "labelColor": "#000000", "labelPadding": 1.5, "labelFlush": false, "labelOverlap": false, "titleFont": "Liberation Serif", "titleFontSize": 8.8, "titleFontWeight": "bold", "titleColor": "#000000"},
 "axisX": {"titlePadding": 6},
 "axisY": {"titlePadding": 5},
 "legend": {"labelFont": "Liberation Serif", "labelFontSize": 7.4, "labelColor": "#000000", "symbolType": "M-1.5,0H1.5", "symbolSize": 64, "symbolStrokeWidth": 1.8, "rowPadding": -0.6, "labelOffset": 5, "padding": 0}
}
}
